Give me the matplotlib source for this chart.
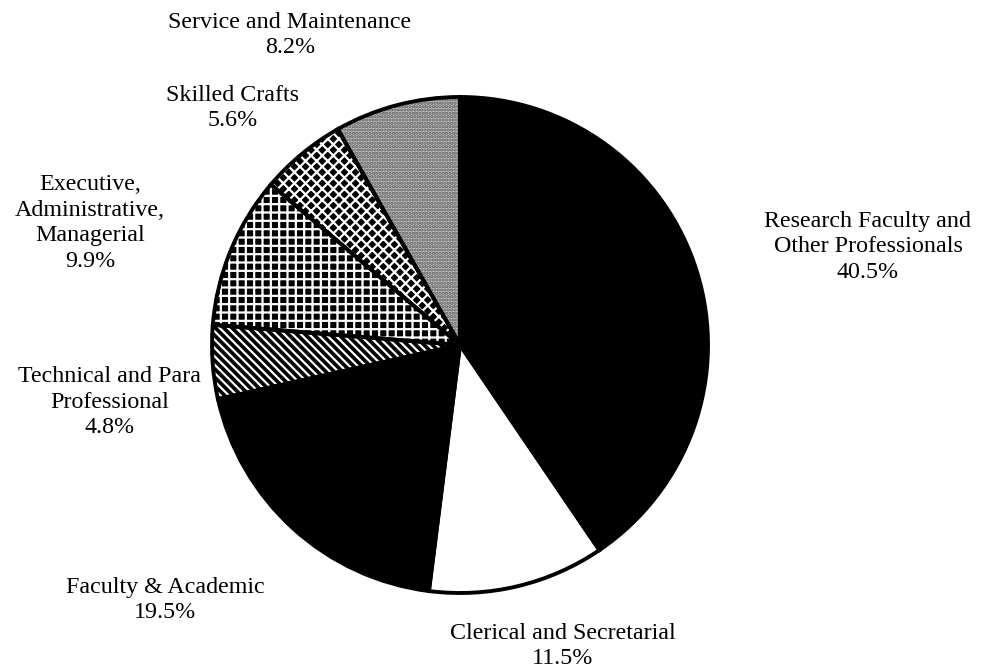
import matplotlib
matplotlib.use("Agg")
import matplotlib.pyplot as plt

plt.rcParams['font.family'] = ['Liberation Serif', 'DejaVu Serif']
plt.rcParams['hatch.linewidth'] = 1.6

# 数据（顺时针，从12点钟方向开始）
categories = ['Research Faculty and\nOther Professionals', 'Clerical and Secretarial',
              'Faculty & Academic', 'Technical and Para\nProfessional',
              'Executive,\nAdministrative,\nManagerial', 'Skilled Crafts',
              'Service and Maintenance']
values = [40.5, 11.5, 19.5, 4.8, 9.9, 5.6, 8.2]

# 样式：填充色、花纹、花纹颜色
face_colors = ['black', 'white', 'black', 'black', 'black', 'black', '#c4c4c4']
hatches = [None, None, None, '\\\\\\\\', '++', 'xxx', '.....']
hatch_colors = ['black', 'white', 'black', 'white', 'white', 'white', '#555555']

# 标签位置（像素坐标，y 从顶部算起）
label_pos = [(868, 247), (563, 646), (165, 600), (110, 402),
             (90, 223), (233, 108), (290, 35)]

W, H = 982, 670
fig = plt.figure(figsize=(W / 100, H / 100), dpi=100)
ax = fig.add_axes([0, 0, 1, 1])

cx, cy, r = 460, H - 345, 248

# 第一层：填充和花纹
wedges, _ = ax.pie(values, startangle=90, counterclock=False,
                   center=(cx, cy), radius=r, frame=True)
for w, fc, h, hc in zip(wedges, face_colors, hatches, hatch_colors):
    w.set_facecolor(fc)
    w.set_edgecolor(hc)
    w.set_linewidth(0)
    if h:
        w.set_hatch(h)

# 第二层：黑色粗边框
ax.pie(values, startangle=90, counterclock=False,
       center=(cx, cy), radius=r, frame=True,
       wedgeprops=dict(fill=False, edgecolor='black', linewidth=2.8))

ax.set_xlim(0, W)
ax.set_ylim(0, H)
ax.set_aspect('equal')
ax.axis('off')

for name, v, (x, y) in zip(categories, values, label_pos):
    ax.text(x, H - y, f"{name}\n{v}%", ha='center', va='center',
            fontsize=17.3, linespacing=1.28)

fig.savefig('out.png', dpi=100)
